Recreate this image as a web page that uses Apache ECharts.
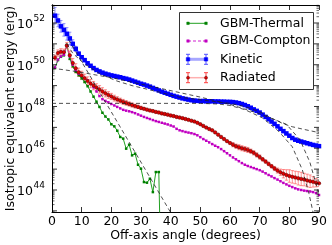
<!DOCTYPE html>
<html><head><meta charset="utf-8">
<script src="https://cdn.jsdelivr.net/npm/echarts@6/dist/echarts.min.js"></script>
<style>html,body{margin:0;padding:0;background:#fff}#c{width:332px;height:245px}</style>
</head><body><div id="c"></div>
<script>
// Off-axis angles (degrees)
const angles = [1,2,3,4,5,6,7,8,9,10,11,12,13,14,15,16,17,18,19,20,21,22,23,24,25,26,27,28,29,30,
31,32,33,34,35,36,37,38,39,40,41,42,43,44,45,46,47,48,49,50,51,52,53,54,55,56,57,58,59,60,
61,62,63,64,65,66,67,68,69,70,71,72,73,74,75,76,77,78,79,80,81,82,83,84,85,86,87,88,89,90];
const thermalAngles = [1,2,3,4,5,6,7,8,9,10,11,12,13,14,15,16,17,18,19,20,21,22,23,24,25,26,27,28,29,30,31,32,33,34,35,36,37];
// log10 of isotropic equivalent energy (erg)
const thermalLog = [49.84,50.22,50.38,50.45,50.95,50.28,49.93,49.66,49.50,49.35,49.17,48.97,48.72,48.47,48.23,47.98,47.70,47.52,47.38,47.15,
47.05,46.84,46.54,46.46,45.98,46.17,45.66,45.74,45.21,45.02,44.38,44.35,44.54,43.90,44.86,44.86,38.0];
const comptonLog = [49.86,50.25,50.40,50.48,50.90,50.40,50.00,49.74,49.57,49.47,49.36,49.24,49.10,48.92,48.72,48.50,48.35,48.27,48.20,48.12,
48.05,47.98,47.91,47.84,47.80,47.77,47.73,47.68,47.62,47.56,47.50,47.45,47.40,47.35,47.30,47.26,47.22,47.18,47.14,47.09,
47.04,46.93,46.86,46.82,46.78,46.75,46.72,46.68,46.62,46.53,46.44,46.36,46.28,46.20,46.12,46.05,45.96,45.86,45.76,45.66,
45.56,45.47,45.38,45.29,45.21,45.15,45.10,45.05,45.00,44.95,44.88,44.80,44.72,44.65,44.57,44.50,44.42,44.34,44.27,44.20,
44.14,44.08,44.03,44.00,43.97,43.95,43.93,43.90,43.85,43.76];
const kineticLog = [52.35,52.12,51.84,51.67,51.48,51.26,51.00,50.76,50.53,50.36,50.22,50.07,49.95,49.84,49.75,49.68,49.62,49.57,49.53,49.49,
49.46,49.43,49.40,49.36,49.33,49.29,49.24,49.19,49.14,49.09,49.05,49.00,48.95,48.89,48.83,48.77,48.71,48.66,48.61,48.56,
48.51,48.47,48.43,48.39,48.36,48.33,48.30,48.28,48.27,48.26,48.26,48.25,48.25,48.25,48.24,48.24,48.23,48.23,48.22,48.22,
48.21,48.19,48.16,48.12,48.07,48.01,47.94,47.86,47.79,47.71,47.61,47.50,47.39,47.28,47.17,47.05,46.93,46.82,46.71,46.60,
46.49,46.41,46.36,46.32,46.28,46.24,46.20,46.16,46.13,46.10];
const kineticErr = [0.40,0.30,0.28,0.30,0.30,0.30,0.20,0.12,0.08,0.05,0.04,0.04,0.04,0.04,0.04,0.04,0.04,0.04,0.04,0.04,
0.04,0.04,0.04,0.04,0.04,0.04,0.04,0.04,0.04,0.04,0.04,0.04,0.04,0.04,0.04,0.04,0.04,0.04,0.04,0.04,
0.04,0.04,0.04,0.04,0.04,0.04,0.04,0.04,0.04,0.04,0.04,0.04,0.04,0.04,0.04,0.04,0.04,0.04,0.04,0.04,
0.04,0.04,0.04,0.04,0.04,0.04,0.04,0.04,0.04,0.04,0.04,0.04,0.04,0.04,0.04,0.04,0.04,0.04,0.04,0.04,
0.04,0.04,0.04,0.04,0.04,0.04,0.04,0.04,0.04,0.04];
const radiatedLog = [50.34,50.56,50.62,50.60,50.92,50.45,50.08,49.83,49.64,49.49,49.35,49.22,49.10,49.00,48.91,48.82,48.72,48.63,48.55,48.48,
48.40,48.34,48.28,48.22,48.17,48.12,48.07,48.02,47.98,47.93,47.89,47.85,47.81,47.78,47.74,47.71,47.67,47.64,47.61,47.57,
47.54,47.50,47.47,47.44,47.40,47.36,47.32,47.28,47.22,47.15,47.07,46.99,46.92,46.86,46.76,46.65,46.54,46.44,46.34,46.25,
46.17,46.10,46.05,46.00,45.96,45.92,45.86,45.78,45.68,45.58,45.47,45.36,45.25,45.14,45.03,44.93,44.85,44.78,44.72,44.67,
44.63,44.60,44.56,44.53,44.50,44.46,44.42,44.39,44.35,44.32];
const radiatedErr = [0.12,0.15,0.15,0.15,0.15,0.20,0.22,0.22,0.20,0.20,0.20,0.20,0.20,0.20,0.18,0.18,0.18,0.17,0.16,0.15,
0.14,0.13,0.12,0.12,0.11,0.10,0.10,0.09,0.08,0.08,0.06,0.06,0.06,0.06,0.06,0.06,0.06,0.06,0.06,0.06,
0.06,0.06,0.06,0.06,0.06,0.05,0.05,0.05,0.05,0.05,0.05,0.05,0.05,0.05,0.05,0.05,0.05,0.05,0.05,0.05,
0.10,0.10,0.12,0.12,0.12,0.12,0.10,0.10,0.10,0.10,0.08,0.08,0.08,0.08,0.10,0.12,0.15,0.20,0.25,0.30,
0.30,0.30,0.32,0.32,0.30,0.30,0.30,0.25,0.20,0.15];
// dashed fit curves: [angle, log10 E]
const fitFlat = [[0,48.15],[50,48.15],[56,48.12],[60,48.05],[65,47.85],[71,47.45],[76.5,46.8],[81,46.07],[84.4,44.96],[86.6,43.84],[88.2,42.8]];
const fitKinetic = [[5,51.0],[7,50.55],[10.7,50.07],[16.3,49.55],[21.9,49.22],[27,49.0],[33.2,48.79],[42.7,48.45],[54,48.25],[60,48.15],[65.2,47.99],[70,47.75],[74.2,47.43],[78,47.17],[81,47.03],[85,46.9],[90,46.75]];
const fitWide = [[0,49.84],[8.4,49.67],[20,49.38],[36.5,48.87],[50,48.45],[60,48.1],[70,47.65],[79,47.15],[83.6,46.4],[86.9,45.34],[89.8,43.9]];
const fitThermal = [[5.6,51.2],[22.4,47.16],[40.5,42.8]];
const xTicks = [0,10,20,30,40,50,60,70,80,90];
// y tick labels (exponents), major and minor log ticks
const yLabelExps = [44,46,48,50,52];
const yMajorExps = [43,44,45,46,47,48,49,50,51,52];
const minorDecades = [42,43,44,45,46,47,48,49,50,51,52];
const minorMantissas = [2,3,4,5,6,7,8,9];
const yMinLog = 42.946, yMaxLog = 52.862;

const P = v => Math.pow(10, v);
const FONT = 'DejaVu Sans';

function pts(xs, logs){ return xs.map((a,i)=>[a, P(logs[i])]); }
function errSeries(logs, errs, color){
  return {
    type:'custom', silent:true, z:2, clip:true,
    data: angles.map((a,i)=>[a, P(logs[i]-errs[i]), P(logs[i]+errs[i])]),
    encode:{x:0, y:[1,2]},
    renderItem(params, api){
      const x = api.value(0);
      const lo = api.coord([x, api.value(1)]);
      const hi = api.coord([x, api.value(2)]);
      const st = {stroke:color, lineWidth:0.8};
      return {type:'group', children:[
        {type:'line', shape:{x1:lo[0],y1:lo[1],x2:hi[0],y2:hi[1]}, style:st},
        {type:'line', shape:{x1:lo[0]-1.6,y1:lo[1],x2:lo[0]+1.6,y2:lo[1]}, style:st},
        {type:'line', shape:{x1:hi[0]-1.6,y1:hi[1],x2:hi[0]+1.6,y2:hi[1]}, style:st}
      ]};
    }
  };
}
function fitSeries(arr){
  return {type:'line', data:arr.map(p=>[p[0], P(p[1])]), symbol:'none', silent:true, z:5,
    lineStyle:{color:'#222', width:0.8, type:[4,3]}, clip:true};
}
const minorVals = [];
minorDecades.forEach(d=>minorMantissas.forEach(m=>{ const v=m*P(d); if (v>P(yMinLog) && v<P(yMaxLog)) minorVals.push([0, v]); }));
const majorVals = yMajorExps.map(e=>[0, P(e)]);
function tickSeries(vals, len, w){
  return {
    type:'custom', silent:true, z:6, clip:false, data:vals, encode:{x:0, y:1},
    renderItem(params, api){
      const v = api.value(1);
      const l = api.coord([0, v]), r = api.coord([90, v]);
      const st = {stroke:'#000', lineWidth:w};
      return {type:'group', children:[
        {type:'line', shape:{x1:l[0],y1:l[1],x2:l[0]+len,y2:l[1]}, style:st},
        {type:'line', shape:{x1:r[0]-len,y1:r[1],x2:r[0],y2:r[1]}, style:st}
      ]};
    }
  };
}
// y tick labels drawn at the axis scale positions
const yLabelSeries = {
  type:'custom', silent:true, z:6, clip:false, data:yLabelExps.map(e=>[0, P(e), e]), encode:{x:0, y:1},
  renderItem(params, api){
    const p = api.coord([0, api.value(1)]);
    const e = api.value(2);
    return {type:'group', children:[
      {type:'text', x:p[0]-19, y:p[1]+2, style:{text:'10', fontFamily:FONT, fontSize:12.5, fill:'#000', align:'right', verticalAlign:'middle'}},
      {type:'text', x:p[0]-7, y:p[1]-4, style:{text:String(e), fontFamily:FONT, fontSize:9, fill:'#000', align:'right', verticalAlign:'middle'}}
    ]};
  }
};

const yAxisBase = {
  type:'log', logBase:10, min:P(yMinLog), max:P(yMaxLog),
  axisLine:{show:true, lineStyle:{color:'#000', width:1}},
  axisTick:{show:false}, axisLabel:{show:false},
  splitLine:{show:false}
};
const xAxisBase = {
  type:'value', min:0, max:90, interval:10,
  axisLine:{show:true, lineStyle:{color:'#000', width:1}},
  axisTick:{show:true, inside:true, length:5, lineStyle:{color:'#000', width:0.8}},
  splitLine:{show:false}
};

const chart = echarts.init(document.getElementById('c'), null, {renderer:'canvas'});
const legendRows = [23.3, 41, 59.3, 77.7];
const lx1 = 188, lx2 = 206;
function sq(x,y,s,fill,stroke){ return {type:'rect', shape:{x:x-s/2,y:y-s/2,width:s,height:s}, style:{fill, stroke:stroke||fill, lineWidth:0.5}, z:101}; }
function errGlyph(x,y,h,color){
  return [
    {type:'line', shape:{x1:x,y1:y-h,x2:x,y2:y+h}, style:{stroke:color,lineWidth:1}, z:101},
    {type:'line', shape:{x1:x-2,y1:y-h,x2:x+2,y2:y-h}, style:{stroke:color,lineWidth:1}, z:101},
    {type:'line', shape:{x1:x-2,y1:y+h,x2:x+2,y2:y+h}, style:{stroke:color,lineWidth:1}, z:101}
  ];
}
const legendTexts = ['GBM-Thermal','GBM-Compton','Kinetic','Radiated'];
const graphics = [
  {type:'rect', shape:{x:179.5,y:12.5,width:134,height:77}, style:{fill:'#fff', stroke:'#333', lineWidth:1}, z:100},
  {type:'line', shape:{x1:lx1,y1:legendRows[0],x2:lx2,y2:legendRows[0]}, style:{stroke:'#22a022',lineWidth:1}, z:101},
  sq(lx1,legendRows[0],2.5,'#008000'), sq(lx2,legendRows[0],2.5,'#008000'),
  {type:'line', shape:{x1:lx1,y1:legendRows[1],x2:lx2,y2:legendRows[1]}, style:{stroke:'#d020d0',lineWidth:1,lineDash:[3,2]}, z:101},
  sq(lx1,legendRows[1],2.5,'#c000c0'), sq(lx2,legendRows[1],2.5,'#c000c0'),
  {type:'line', shape:{x1:lx1,y1:legendRows[2],x2:lx2,y2:legendRows[2]}, style:{stroke:'rgba(60,60,255,0.45)',lineWidth:3}, z:101},
  ...errGlyph(lx1,legendRows[2],5,'#5050ff'), ...errGlyph(lx2,legendRows[2],5,'#5050ff'),
  sq(lx1,legendRows[2],3.5,'#0000ff'), sq(lx2,legendRows[2],3.5,'#0000ff'),
  {type:'line', shape:{x1:lx1,y1:legendRows[3],x2:lx2,y2:legendRows[3]}, style:{stroke:'rgba(255,80,80,0.45)',lineWidth:1.5}, z:101},
  ...errGlyph(lx1,legendRows[3],5,'#ff4040'), ...errGlyph(lx2,legendRows[3],5,'#ff4040'),
  {type:'circle', shape:{cx:lx1,cy:legendRows[3],r:1.5}, style:{fill:'#e00000',stroke:'#500000',lineWidth:0.5}, z:102},
  {type:'circle', shape:{cx:lx2,cy:legendRows[3],r:1.5}, style:{fill:'#e00000',stroke:'#500000',lineWidth:0.5}, z:102}
];
legendTexts.forEach((t,i)=>graphics.push({type:'text', x:220, y:legendRows[i], z:101,
  style:{text:t, fontFamily:FONT, fontSize:12.5, fill:'#000', verticalAlign:'middle', align:'left'}}));

chart.setOption({
  animation:false,
  backgroundColor:'#fff',
  grid:{left:52, right:13, top:5, bottom:33, containLabel:false, outerBoundsMode:'none'},
  xAxis:[
    Object.assign({}, xAxisBase, {position:'bottom', name:'Off-axis angle (degrees)', nameLocation:'middle', nameGap:17, nameMoveOverlap:false,
      nameTextStyle:{fontFamily:FONT, fontSize:12.5, color:'#000'},
      axisLabel:{show:true, margin:3, fontFamily:FONT, fontSize:12.5, color:'#000', formatter:v=>xTicks.indexOf(v)>=0?String(v):''}}),
    Object.assign({}, xAxisBase, {position:'top', axisLabel:{show:false}})
  ],
  yAxis:[
    Object.assign({}, yAxisBase, {position:'left', name:'Isotropic equivalent energy (erg)', nameLocation:'middle', nameGap:35, nameRotate:90, nameMoveOverlap:false,
      nameTextStyle:{fontFamily:FONT, fontSize:12.5, color:'#000'}}),
    Object.assign({}, yAxisBase, {position:'right'})
  ],
  graphic: graphics,
  series:[
    {type:'line', data:pts(thermalAngles, thermalLog), symbol:'rect', symbolSize:2.5, z:3, clip:true,
      itemStyle:{color:'#008000'}, lineStyle:{color:'#22a022', width:1}},
    {type:'line', data:pts(angles, comptonLog), symbol:'rect', symbolSize:2.5, z:3, clip:true,
      itemStyle:{color:'#c000c0'}, lineStyle:{color:'#d020d0', width:1, type:[3,2]}},
    errSeries(kineticLog, kineticErr, 'rgba(80,80,255,0.75)'),
    {type:'line', data:pts(angles, kineticLog), symbol:'rect', symbolSize:4.5, z:4, clip:true,
      itemStyle:{color:'#0000ff'}, lineStyle:{color:'rgba(60,60,255,0.4)', width:3}},
    errSeries(radiatedLog, radiatedErr, 'rgba(255,60,60,0.7)'),
    {type:'line', data:pts(angles, radiatedLog), symbol:'circle', symbolSize:3.5, z:4, clip:true,
      itemStyle:{color:'#e00000', borderColor:'#500000', borderWidth:0.5}, lineStyle:{color:'rgba(255,80,80,0.45)', width:1.5}},
    fitSeries(fitFlat), fitSeries(fitKinetic), fitSeries(fitWide), fitSeries(fitThermal),
    tickSeries(minorVals, 2.5, 0.6), tickSeries(majorVals, 5, 0.8), yLabelSeries
  ]
});
</script></body></html>
